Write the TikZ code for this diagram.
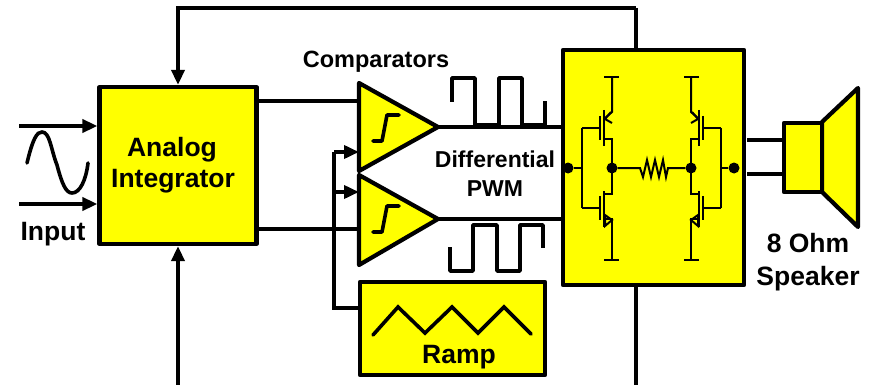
\documentclass[tikz,border=0pt]{standalone}
\usepackage{fontspec}
\setmainfont{Liberation Sans}
\usepackage{xcolor}
\usetikzlibrary{arrows.meta, calc, shapes.geometric}
\definecolor{blockfill}{HTML}{FFFF00}

\begin{document}
\begin{tikzpicture}[x=1pt, y=-1pt,
    every node/.style={font=\fontsize{26.5}{30}\selectfont\bfseries, inner sep=0pt, align=center},
    wire/.style={line width=3.6pt},
    sig/.style={wire, -{Triangle[length=15pt, width=13pt]}},
    thin wire/.style={line width=2pt},
    block/.style={draw, line width=4.2pt, fill=blockfill, line join=round},
    dot/.style={circle, fill=black, minimum size=11pt},
]
\useasboundingbox (0,0) rectangle (872,385);

% ── Blocks ─────────────────────────────────────────────────────────────
\coordinate (fbtop) at (178,8);
\coordinate (fbbot) at (178,385);
\coordinate (hbtop) at (636,8);
\coordinate (hbbot) at (636,385);

\draw[wire] (hbtop) -- (636,50);
\draw[wire] (636,285) -- (hbbot);

\node[block, minimum width=157pt, minimum height=157pt] (integ) at (178,165.5) {};
\node (anlabel) at (172,150) {Analog};
\node (intlabel) at (173,181) {Integrator};

\draw[block] (359,83) -- (438,127) -- (359,171) -- cycle;
\draw[block] (359,175) -- (438,219) -- (359,265) -- cycle;
\coordinate (cmpA) at (438,127);
\coordinate (cmpB) at (438,219);

\node[block, minimum width=185pt, minimum height=93pt] (ramp) at (452.5,328.5) {};
\node[block, minimum width=181pt, minimum height=235pt] (hbridge) at (653.5,167.5) {};

% ── Connections ────────────────────────────────────────────────────────
\draw[sig] (hbtop) -- (fbtop) -- (integ.north -| fbtop);
\draw[sig] (fbbot) -- (integ.south -| fbbot);

\coordinate (inA) at (19,126);
\coordinate (inB) at (19,204);
\draw[sig] (inA) -- (inA -| integ.west);
\draw[sig] (inB) -- (inB -| integ.west);

\draw[wire] (integ.east |- 0,101) -- (359,101);
\draw[wire] (integ.east |- 0,229) -- (359,229);

\draw[wire] (ramp.west |- 0,308) -- (334,308) -- (334,152);
\draw[sig] (334,152) -- (359,152);
\draw[sig] (334,192) -- (359,192);

\draw[wire] (cmpA) -- (hbridge.west |- cmpA);
\draw[wire] (cmpB) -- (hbridge.west |- cmpB);

% ── Waveforms ──────────────────────────────────────────────────────────
\draw[wire, line cap=round] (27,163) .. controls (33,138) and (37,132) .. (42,132)
    .. controls (50,132) and (51,150) .. (57,165)
    .. controls (62,184) and (66,193) .. (72,193)
    .. controls (80,193) and (86,180) .. (88,163);

\foreach \sx/\sy in {373/141, 373/232}
    \draw[wire, line join=round, line cap=round] (\sx,\sy) -- ++(9,0) -- ++(5,-26) -- ++(12,0);

\draw[wire, line cap=round] (373,335) -- (398,307) -- (425,333) -- (452,307)
    -- (478,333) -- (504,307) -- (531,334);

\draw[wire, line join=round] (452,102) -- (452,78) -- (475,78) -- (475,125) -- (499,125)
    -- (499,78) -- (522,78) -- (522,125) -- (545,125) -- (545,101);
\draw[wire, line join=round] (450,247) -- (450,271) -- (473,271) -- (473,225) -- (497,225)
    -- (497,271) -- (520,271) -- (520,225) -- (543,225) -- (543,248);

% ── H-bridge ───────────────────────────────────────────────────────────
\node[dot] (outL) at (568,168) {};
\node[dot] (midL) at (612,168) {};
\node[dot] (midR) at (691,168) {};
\node[dot] (outR) at (734,168) {};

\draw[thin wire] (outL) -- (582,168);
\draw[thin wire] (outR) -- (721,168);
\draw[thin wire] (midL) -- (638,168) -- (640,168) -- (643,177) -- (647,160) -- (651,177)
    -- (655,160) -- (659,177) -- (663,160) -- (666,177) -- (668,168) -- (midR);

\foreach \m/\f in {0/1, 1303/-1} {
    \begin{scope}[xshift=\m pt, xscale=\f]
        \draw[thin wire] (582,128) -- (582,208);
        \draw[thin wire] (582,128) -- (600,128);
        \draw[thin wire] (582,208) -- (600,208);
        \draw[line width=2.6pt] (600,116) -- (600,140);
        \draw[line width=2.6pt] (600,196) -- (600,220);
        \draw[line width=2.6pt] (604,110) -- (604,146);
        \draw[line width=2.6pt] (604,191) -- (604,227);
        \draw[thin wire] (604,77) -- (619,77);
        \draw[thin wire] (612,77) -- (612,112) -- (604,119);
        \draw[thin wire] (611,112) -- (605,119) -- (612,123);
        \draw[thin wire] (604,139) -- (612,139) -- (612,194) -- (604,194);
        \draw[thin wire] (604,219) -- (612,219) -- (612,260);
        \draw[thin wire] (604,260) -- (619,260);
        \draw[thin wire] (605,215) -- (605,226) -- (612,220) -- cycle;
    \end{scope}
}

% ── Speaker ────────────────────────────────────────────────────────────
\draw[wire] (747,140) -- (784,140);
\draw[wire] (747,174) -- (784,174);
\draw[block] (822,122) -- (858,88) -- (858,227) -- (822,192) -- cycle;
\draw[block] (784,123) rectangle (822,192);

% ── Labels ─────────────────────────────────────────────────────────────
\node (inlabel) at (53,234) {Input};
\node[font=\fontsize{23.5}{26}\selectfont\bfseries] (cmplabel) at (376,62) {Comparators};
\node[font=\fontsize{23}{26}\selectfont\bfseries] (pwmlabel) at (495,174) {Differential\\[3pt]PWM};
\node (ramplabel) at (459,357) {Ramp};
\node (spklabel) at (808,262) {8 Ohm\\[3pt]Speaker};

\end{tikzpicture}
\end{document}
